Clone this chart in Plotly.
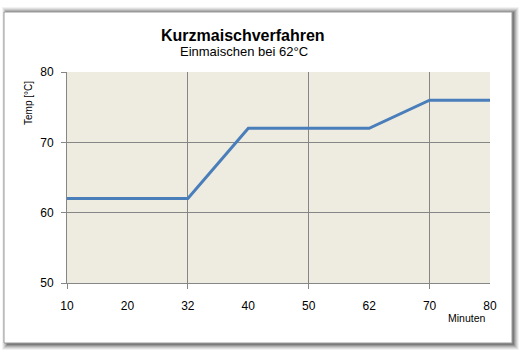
import plotly.graph_objects as go

minutes = ["10", "20", "32", "40", "50", "62", "70", "80"]
temps = [62, 62, 62, 72, 72, 72, 76, 76]
y_ticks = [50, 60, 70, 80]
title = "Kurzmaischverfahren"
subtitle = "Einmaischen bei 62°C"
y_title = "Temp [°C]"
x_title = "Minuten"

W, H = 523, 354
L, R, T, B = 67, 490, 72, 283

def px(x):
    return (x - L) / (R - L)

def py(y):
    return (B - y) / (B - T)

idx = list(range(len(minutes)))

fig = go.Figure()
fig.add_trace(go.Scatter(x=idx, y=temps, mode="lines",
                         line=dict(color="#4A7EBB", width=3), showlegend=False,
                         hoverinfo="skip"))
fig.add_trace(go.Scatter(x=idx, y=temps, xaxis="x2", mode="lines",
                         line=dict(width=0), opacity=0, showlegend=False,
                         hoverinfo="skip"))

shapes = []
for d, op in [(6, 0.05), (5, 0.07), (4, 0.09), (3, 0.12), (2, 0.15), (1, 0.18)]:
    shapes.append(dict(type="rect", xref="paper", yref="paper", layer="below",
                       x0=px(4 - d + 4), x1=px(512 + d + 1),
                       y0=py(343 + d + 1), y1=py(12 - d + 1),
                       fillcolor="rgba(0,0,0,%f)" % op, line=dict(width=0)))
shapes.append(dict(type="rect", xref="paper", yref="paper", layer="below",
                   x0=px(4), x1=px(512), y0=py(343), y1=py(12),
                   fillcolor="white", line=dict(color="#9A9A9A", width=1)))
shapes.append(dict(type="rect", xref="paper", yref="paper", layer="below",
                   x0=0, x1=1, y0=0, y1=1,
                   fillcolor="#EEECE1", line=dict(width=0)))

fig.update_layout(
    width=W, height=H,
    margin=dict(l=L, r=W - R, t=T, b=H - B),
    paper_bgcolor="white",
    plot_bgcolor="#EEECE1",
    font=dict(family="Liberation Sans, Arial", size=12, color="#000"),
    shapes=shapes,
    xaxis=dict(range=[0, len(minutes) - 1], tickvals=idx, ticktext=minutes,
               showgrid=False, zeroline=False, showline=True,
               linecolor="#868686", linewidth=1, ticks="", ticklabelstandoff=12,
               fixedrange=True),
    xaxis2=dict(range=[0, len(minutes) - 1], overlaying="x",
                tickvals=idx[::2], showticklabels=False, showgrid=True,
                gridcolor="#868686", gridwidth=1, ticks="outside", ticklen=5,
                tickcolor="#868686", zeroline=False, showline=False),
    yaxis=dict(range=[50, 80], tickvals=y_ticks, showgrid=True,
               gridcolor="#868686", gridwidth=1, zeroline=False, showline=True,
               linecolor="#868686", linewidth=1, ticks="outside", ticklen=5,
               tickcolor="#868686", ticklabelstandoff=5, fixedrange=True),
    annotations=[
        dict(text="<b>" + title + "</b>", xref="paper", yref="paper",
             x=px(243), y=py(35), xanchor="center", yanchor="middle",
             showarrow=False, font=dict(size=16)),
        dict(text=subtitle, xref="paper", yref="paper",
             x=px(244), y=py(52), xanchor="center", yanchor="middle",
             showarrow=False, font=dict(size=13)),
        dict(text=y_title, xref="paper", yref="paper", textangle=-90,
             x=px(28), y=py(103), xanchor="center", yanchor="middle",
             showarrow=False, font=dict(size=10)),
        dict(text=x_title, xref="paper", yref="paper",
             x=px(467), y=py(318), xanchor="center", yanchor="middle",
             showarrow=False, font=dict(size=10.5)),
    ],
)

fig.write_html("out.html")
